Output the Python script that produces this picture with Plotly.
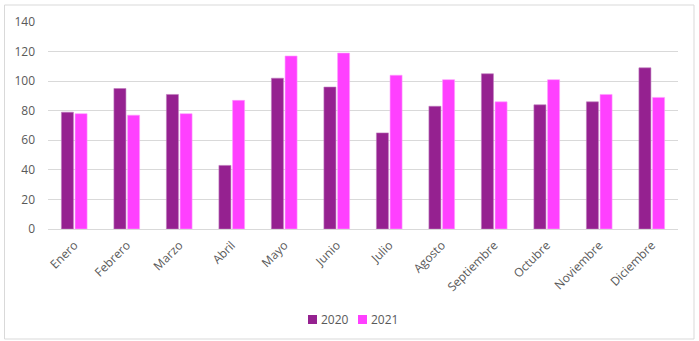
import plotly.graph_objects as go

months = ["Enero", "Febrero", "Marzo", "Abril", "Mayo", "Junio", "Julio",
          "Agosto", "Septiembre", "Octubre", "Noviembre", "Diciembre"]
values_2020 = [79, 95, 91, 43, 102, 96, 65, 83, 105, 84, 86, 109]
values_2021 = [78, 77, 78, 87, 117, 119, 104, 101, 86, 101, 91, 89]
y_ticks = [0, 20, 40, 60, 80, 100, 120, 140]
series_names = ["2020", "2021"]
series_colors = ["#952190", "#ff40ff"]
edge_colors = ["#c07abd", "#ff9cff"]

font_family = "Open Sans"
text_color = "#595959"

fig = go.Figure()
for name, vals, col, edge in zip(series_names, [values_2020, values_2021], series_colors, edge_colors):
    fig.add_trace(go.Bar(name=name, x=months, y=vals,
                         marker=dict(color=col, line=dict(color=edge, width=0.6))))

W, H = 699, 341
L, R, T, B = 48, 21, 22, 112
pw, ph = W - L - R, H - T - B

def px_x(x):
    return (x - L) / pw

def px_y(y):
    return (H - B - y) / ph

# custom legend (small squares next to text, like the original)
shapes = [dict(type="rect", xref="paper", yref="paper",
               x0=px_x(4.5), x1=px_x(694), y0=px_y(339), y1=px_y(5),
               line=dict(color="#d9d9d9", width=1), fillcolor="rgba(0,0,0,0)", layer="below")]
annotations = []
legend_x = [308, 358]
for lx, name, col in zip(legend_x, series_names, series_colors):
    shapes.append(dict(type="rect", xref="paper", yref="paper",
                       x0=px_x(lx), x1=px_x(lx + 9), y0=px_y(324), y1=px_y(315),
                       line=dict(width=0), fillcolor=col))
    annotations.append(dict(xref="paper", yref="paper", x=px_x(lx + 11), y=px_y(319.5),
                            xanchor="left", yanchor="middle", showarrow=False, text=name,
                            font=dict(family=font_family, size=12, color=text_color)))

fig.update_layout(
    width=W, height=H,
    margin=dict(l=L, r=R, t=T, b=B, autoexpand=False),
    paper_bgcolor="white", plot_bgcolor="white",
    barmode="group", bargap=0.48, bargroupgap=0.12,
    font=dict(family=font_family, size=12, color=text_color),
    showlegend=False,
    hovermode=False,
    xaxis=dict(tickangle=-45, showgrid=False, showline=False, ticks="", automargin=False,
               ticklabelstandoff=6, tickfont=dict(size=12, color=text_color)),
    yaxis=dict(range=[0, 140], tickvals=y_ticks, showgrid=True, gridcolor="#d9d9d9",
               gridwidth=1, zeroline=True, zerolinecolor="#d9d9d9", zerolinewidth=1,
               ticks="", automargin=False, ticklabelstandoff=12,
               tickfont=dict(size=12, color=text_color)),
    shapes=shapes,
    annotations=annotations,
)

fig.write_html("out.html", config={"displayModeBar": False},
               post_script="document.body.style.margin='0';")
